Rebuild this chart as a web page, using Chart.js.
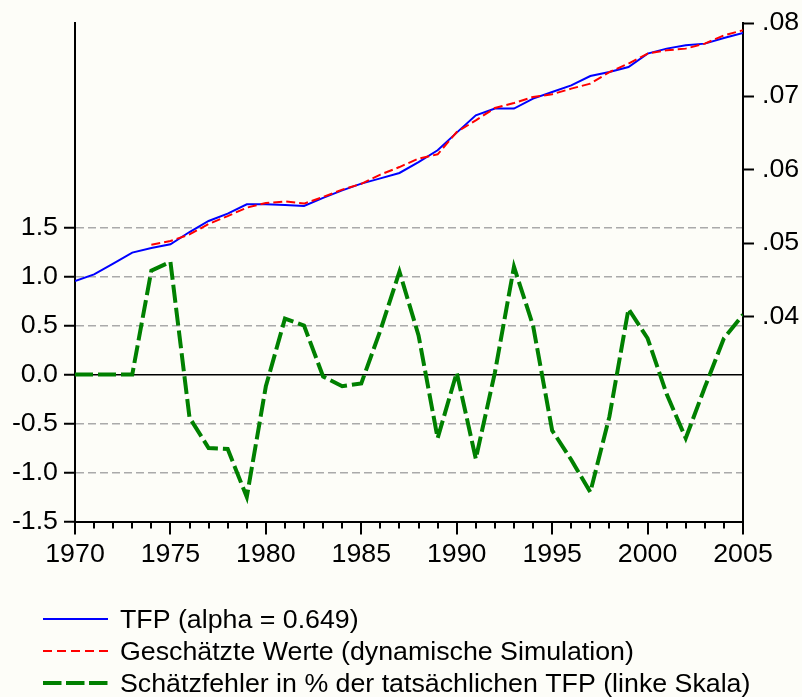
<!DOCTYPE html>
<html>
<head>
<meta charset="utf-8">
<script src="https://cdn.jsdelivr.net/npm/chart.js@4.4.1/dist/chart.umd.min.js"></script>
<style>
    html, body { margin: 0; padding: 0; background: #fdfdf8; }
    #chart { display: block; background: #fdfdf8; }
</style>
</head>
<body>
<canvas id="chart" width="802" height="697"></canvas>
<script>
var years = [1970, 1971, 1972, 1973, 1974, 1975, 1976, 1977, 1978, 1979,
    1980, 1981, 1982, 1983, 1984, 1985, 1986, 1987, 1988, 1989,
    1990, 1991, 1992, 1993, 1994, 1995, 1996, 1997, 1998, 1999,
    2000, 2001, 2002, 2003, 2004, 2005];

// TFP (rechte Skala)
var tfp = [0.04485, 0.04576, 0.04722, 0.04872, 0.04935, 0.04985, 0.05153, 0.05303, 0.05403, 0.0553,
    0.0553, 0.0552, 0.05507, 0.05619, 0.0572, 0.05812, 0.05884, 0.05957, 0.06106, 0.06266,
    0.06507, 0.06743, 0.06834, 0.06834, 0.0697, 0.0706, 0.07151, 0.07278, 0.07332, 0.07401,
    0.07583, 0.07651, 0.07696, 0.07719, 0.07796, 0.07864];

// dynamische Simulation, ab 1974
var simulated = [null, null, null, null, 0.04981, 0.0503, 0.0512, 0.05262, 0.0537, 0.05485,
    0.05548, 0.0557, 0.0554, 0.0563, 0.0573, 0.0581, 0.05935, 0.06038, 0.06153, 0.06211,
    0.06515, 0.06674, 0.06842, 0.0691, 0.06992, 0.07029, 0.07106, 0.07174, 0.07332, 0.07447,
    0.07583, 0.07628, 0.07651, 0.07719, 0.07832, 0.07901];

// Schaetzfehler in % (linke Skala)
var errorPct = [0, 0, 0, 0, 1.06, 1.15, -0.44, -0.75, -0.76, -1.25,
    -0.12, 0.57, 0.5, -0.02, -0.12, -0.09, 0.45, 1.05, 0.4, -0.65,
    0.02, -0.86, 0.02, 1.1, 0.5, -0.57, -0.87, -1.2, -0.43, 0.67,
    0.37, -0.2, -0.65, -0.13, 0.37, 0.61];

var labels = [
    'TFP (alpha = 0.649)',
    'Geschätzte Werte (dynamische Simulation)',
    'Schätzfehler in % der tatsächlichen TFP (linke Skala)'
];

var leftTicks = [-1.5, -1.0, -0.5, 0.0, 0.5, 1.0, 1.5];
var rightTicks = [0.04, 0.05, 0.06, 0.07, 0.08];
var yearTicks = [1970, 1975, 1980, 1985, 1990, 1995, 2000, 2005];

var textFont = '25px "Liberation Sans", Arial, sans-serif';
var textStretch = 1.07;

function toPoints(values) {
    return years.map((yr, i) => ({x: yr, y: values[i]}));
}

function wideText(ctx, text, x, y, align) {
    var w = ctx.measureText(text).width * textStretch;
    var left = x;
    if (align === 'right') {
        left = x - w;
    } else if (align === 'center') {
        left = x - w / 2;
    }
    ctx.save();
    ctx.translate(left, y);
    ctx.scale(textStretch, 1);
    ctx.textAlign = 'left';
    ctx.textBaseline = 'alphabetic';
    ctx.fillText(text, 0, 0);
    ctx.restore();
}

// ----------------------------------------------------------------------------

var axisExtras = {
    id: 'axisExtras',
    afterDraw(chart) {
        var ctx = chart.ctx;
        var sx = chart.scales.x;
        var sl = chart.scales.yL;
        var sr = chart.scales.yR;
        var bottom = chart.chartArea.bottom;

        ctx.save();
        ctx.strokeStyle = '#000';
        ctx.lineWidth = 2;
        years.forEach((yr) => {
            var px = Math.round(sx.getPixelForValue(yr));
            ctx.beginPath();
            ctx.moveTo(px, bottom);
            ctx.lineTo(px, bottom + (yr % 5 === 0 ? 13 : 7));
            ctx.stroke();
        });

        ctx.font = textFont;
        ctx.fillStyle = '#000';
        yearTicks.forEach((yr) => {
            wideText(ctx, String(yr), sx.getPixelForValue(yr), bottom + 40, 'center');
        });
        leftTicks.forEach((v) => {
            wideText(ctx, v.toFixed(1), 58, sl.getPixelForValue(v) + 7, 'right');
        });
        rightTicks.forEach((v) => {
            wideText(ctx, v.toFixed(2).replace(/^0/, ''), 762, sr.getPixelForValue(v) + 7, 'left');
        });

        // legend
        chart.data.datasets.forEach((ds, i) => {
            var ly = 619 + i * 32;
            ctx.save();
            ctx.strokeStyle = ds.borderColor;
            ctx.lineWidth = ds.borderWidth;
            ctx.setLineDash(ds.legendDash || []);
            ctx.beginPath();
            ctx.moveTo(43, ly);
            ctx.lineTo(108, ly);
            ctx.stroke();
            ctx.restore();
            wideText(ctx, ds.label, 120, ly + 9, 'left');
        });
        ctx.restore();
    }
};

new Chart(document.getElementById('chart'), {
    type: 'line',
    data: {
        datasets: [{
            label: labels[0],
            data: toPoints(tfp),
            yAxisID: 'yR',
            borderColor: '#0000ff',
            borderWidth: 2,
            order: 3
        }, {
            label: labels[1],
            data: toPoints(simulated),
            yAxisID: 'yR',
            borderColor: '#ff0000',
            borderWidth: 2,
            borderDash: [9, 4],
            legendDash: [9, 5],
            order: 2
        }, {
            label: labels[2],
            data: toPoints(errorPct),
            yAxisID: 'yL',
            borderColor: '#008000',
            borderWidth: 4,
            borderDash: [18, 5],
            legendDash: [18.5, 4.5],
            order: 1
        }]
    },
    options: {
        responsive: false,
        animation: false,
        devicePixelRatio: 1,
        layout: {
            padding: {top: 23, bottom: 125.5, left: 0, right: 0}
        },
        elements: {
            point: {radius: 0},
            line: {tension: 0, borderCapStyle: 'butt'}
        },
        plugins: {
            legend: {display: false},
            tooltip: {enabled: false}
        },
        scales: {
            x: {
                type: 'linear',
                min: 1970,
                max: 2005,
                ticks: {display: false, stepSize: 5},
                grid: {drawOnChartArea: false, drawTicks: false},
                border: {color: '#000', width: 2},
                afterFit: (s) => { s.height = 50; }
            },
            yL: {
                type: 'linear',
                position: 'left',
                min: -1.5,
                max: 3.588,
                afterBuildTicks: (s) => { s.ticks = leftTicks.map((v) => ({value: v})); },
                ticks: {display: false},
                grid: {
                    color: (c) => {
                        if (!c.tick) return '#aaa';
                        if (c.tick.value === -1.5) return 'rgba(0,0,0,0)';
                        return c.tick.value === 0 ? '#000' : '#aaa';
                    },
                    lineWidth: 1.5,
                    tickLength: 11,
                    tickColor: '#000',
                    tickWidth: 2
                },
                border: {
                    color: '#000',
                    width: 2,
                    dash: (c) => (c.tick && c.tick.value === 0) ? [] : [8, 4]
                },
                afterFit: (s) => { s.width = 75; }
            },
            yR: {
                type: 'linear',
                position: 'right',
                min: 0.0121,
                max: 0.08,
                afterBuildTicks: (s) => { s.ticks = rightTicks.map((v) => ({value: v})); },
                ticks: {display: false},
                grid: {
                    drawOnChartArea: false,
                    tickLength: 11,
                    tickColor: '#000',
                    tickWidth: 2
                },
                border: {color: '#000', width: 2},
                afterFit: (s) => { s.width = 59; }
            }
        }
    },
    plugins: [axisExtras]
});
</script>
</body>
</html>
